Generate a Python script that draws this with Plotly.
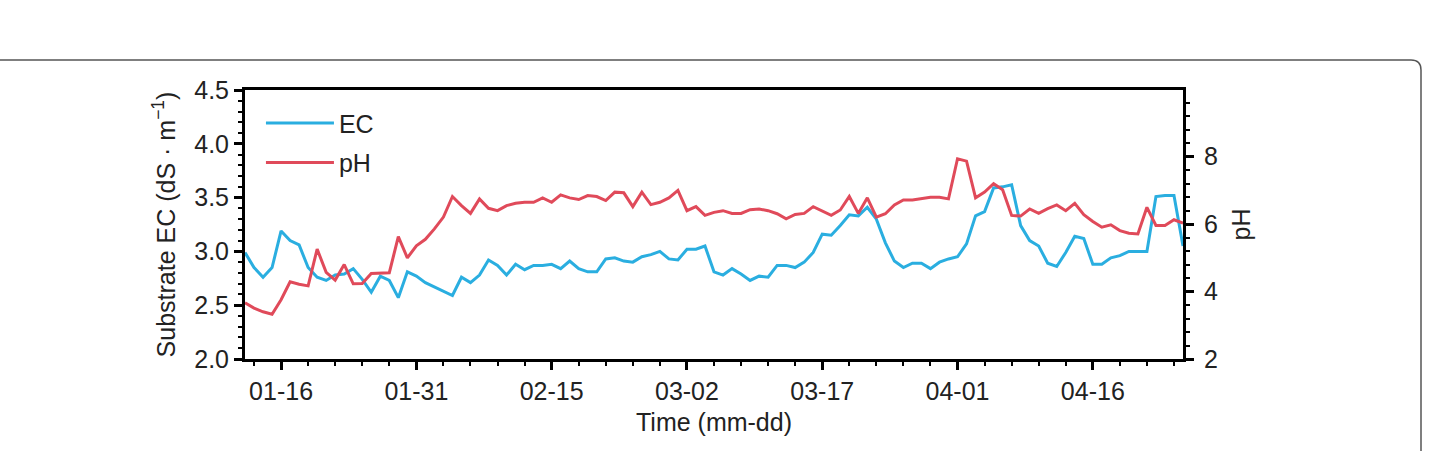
import plotly.graph_objects as go

# ---------------- data ----------------
dates = (
    ["2019-01-%02d" % d for d in range(12, 32)]
    + ["2019-02-%02d" % d for d in range(1, 29)]
    + ["2019-03-%02d" % d for d in range(1, 32)]
    + ["2019-04-%02d" % d for d in range(1, 27)]
)

ec = [
    2.99, 2.85, 2.76, 2.85, 3.19, 3.10, 3.06, 2.85, 2.76, 2.73,
    2.78, 2.79, 2.84, 2.74, 2.62, 2.77, 2.73, 2.57, 2.81, 2.77,
    2.71, 2.67, 2.63, 2.59, 2.76, 2.71, 2.78, 2.92, 2.87, 2.78,
    2.88, 2.83, 2.87, 2.87, 2.88, 2.84, 2.91, 2.84, 2.81, 2.81,
    2.93, 2.94, 2.91, 2.90, 2.95, 2.97, 3.00, 2.93, 2.92, 3.02,
    3.02, 3.05, 2.81, 2.78, 2.84, 2.79, 2.73, 2.77, 2.76, 2.87,
    2.87, 2.85, 2.90, 2.99, 3.16, 3.15, 3.24, 3.34, 3.33, 3.41,
    3.30, 3.08, 2.91, 2.85, 2.89, 2.89, 2.84, 2.90, 2.93, 2.95,
    3.07, 3.33, 3.37, 3.59, 3.60, 3.62, 3.24, 3.10, 3.05, 2.89,
    2.86, 2.99, 3.14, 3.12, 2.88, 2.88, 2.94, 2.96, 3.00, 3.00,
    3.00, 3.51, 3.52, 3.52, 3.05,
]

ph = [
    3.67, 3.51, 3.40, 3.33, 3.76, 4.29, 4.22, 4.17, 5.26, 4.57,
    4.34, 4.80, 4.23, 4.24, 4.54, 4.56, 4.56, 5.63, 5.00, 5.36,
    5.55, 5.86, 6.21, 6.82, 6.55, 6.32, 6.75, 6.47, 6.40, 6.55,
    6.62, 6.65, 6.65, 6.78, 6.65, 6.87, 6.78, 6.73, 6.85, 6.82,
    6.70, 6.95, 6.93, 6.52, 6.95, 6.58, 6.65, 6.78, 7.00, 6.40,
    6.52, 6.26, 6.35, 6.40, 6.32, 6.32, 6.43, 6.45, 6.40, 6.31,
    6.16, 6.29, 6.32, 6.52, 6.38, 6.26, 6.42, 6.82, 6.32, 6.78,
    6.21, 6.31, 6.57, 6.72, 6.72, 6.75, 6.80, 6.80, 6.75, 7.94,
    7.87, 6.78, 6.95, 7.20, 7.02, 6.26, 6.24, 6.45, 6.32, 6.46,
    6.57, 6.40, 6.62, 6.28, 6.08, 5.91, 5.98, 5.81, 5.73, 5.71,
    6.50, 5.96, 5.96, 6.13, 6.03,
]

x_tick_start = "2019-01-16"
x_range = ["2019-01-12", "2019-04-26"]
ec_range = [2.0, 4.5]
ph_range = [2.0, 9.98]

# ---------------- style ----------------
BLUE = "#2AAEE0"
RED = "#E04A5A"
FONT = "Liberation Sans, Arial, Helvetica, sans-serif"
TXT = "#222222"
FS = 25

W, H = 1429, 451
ML, MR, MT, MB = 245, 246, 90, 92
PW, PH = W - ML - MR, H - MT - MB

DAY = 86400000

fig = go.Figure()
fig.add_trace(go.Scatter(x=dates, y=ec, name="EC", mode="lines", legendgroup="ec",
                         line=dict(color=BLUE, width=3), yaxis="y"))
fig.add_trace(go.Scatter(x=dates, y=ph, name="pH", mode="lines", legendgroup="ph",
                         line=dict(color=RED, width=3), yaxis="y2"))

axis_common = dict(
    showline=True, linecolor="black", linewidth=3,
    ticks="outside", ticklen=8, tickwidth=3, tickcolor="black",
    showgrid=False, zeroline=False,
    tickfont=dict(family=FONT, size=FS, color=TXT),
)

fig.update_layout(
    width=W, height=H,
    margin=dict(l=ML, r=MR, t=MT, b=MB, pad=0),
    paper_bgcolor="white", plot_bgcolor="white",
    font=dict(family=FONT, size=FS, color=TXT),
    xaxis=dict(
        **axis_common,
        type="date", range=x_range, mirror=True,
        tickmode="linear", tick0=x_tick_start, dtick=15 * DAY,
        tickformat="%m-%d",
        minor=dict(ticks="outside", ticklen=4, tickwidth=2, tickcolor="black",
                   tick0=x_tick_start, dtick=3 * DAY, showgrid=False),
        title=dict(text="Time (mm-dd)", font=dict(family=FONT, size=FS, color=TXT), standoff=10),
    ),
    yaxis=dict(
        **axis_common,
        range=ec_range, tickmode="linear", tick0=2.0, dtick=0.5,
        tickformat=".1f",
        minor=dict(ticks="outside", ticklen=4, tickwidth=2, tickcolor="black",
                   dtick=0.1, showgrid=False),
        title=dict(text="Substrate EC (dS \u00b7 m<sup>\u22121</sup>)",
                   font=dict(family=FONT, size=FS, color=TXT), standoff=12),
    ),
    yaxis2=dict(
        **axis_common,
        overlaying="y", side="right", anchor="x",
        range=ph_range, tickmode="linear", tick0=2, dtick=2,
        ticklabelstandoff=5,
        minor=dict(ticks="outside", ticklen=4, tickwidth=2, tickcolor="black",
                   tick0=2, dtick=0.4, showgrid=False),
        title=dict(text="pH", font=dict(family=FONT, size=FS, color=TXT), standoff=16),
    ),
    legend=dict(
        x=0.017, y=0.962, xanchor="left", yanchor="top",
        bgcolor="rgba(0,0,0,0)", borderwidth=0,
        font=dict(family=FONT, size=FS, color=TXT),
        itemwidth=68, traceorder="grouped", tracegroupgap=4,
    ),
    showlegend=True,
)

# decorative rounded frame (pixel positions converted to paper coordinates)
def px(xp):
    return (xp - ML) / PW

def py(yp):
    return (H - MB - yp) / PH

R = 10
frame_top, frame_right = 60, 1421
path = (
    f"M {px(-5)},{py(frame_top)} "
    f"L {px(frame_right - R)},{py(frame_top)} "
    f"Q {px(frame_right)},{py(frame_top)} {px(frame_right)},{py(frame_top + R)} "
    f"L {px(frame_right)},{py(H + 10)}"
)
fig.add_shape(type="path", path=path, xref="paper", yref="paper",
              line=dict(color="#555555", width=1.5), layer="below")

fig.write_html("out.html")
